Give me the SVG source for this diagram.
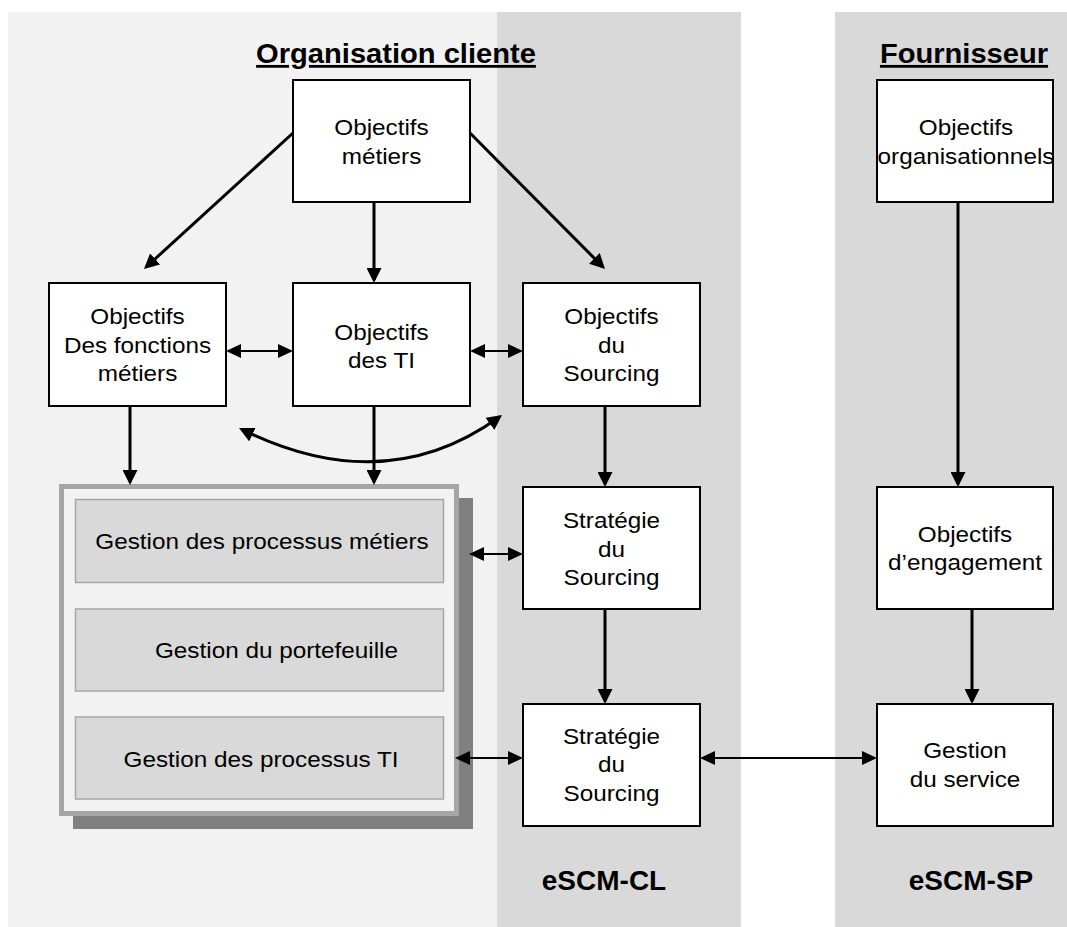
<svg xmlns="http://www.w3.org/2000/svg" width="1067" height="927" viewBox="0 0 1067 927">
<defs>
<style>
.bg-light{fill:#f2f2f2}
.bg-dark{fill:#d9d9d9}
.node{fill:#ffffff;stroke:#000000;stroke-width:2}
.t{font-family:"Liberation Sans",Arial,sans-serif;font-size:22.5px;fill:#000;text-anchor:middle;transform-box:fill-box;transform-origin:center;transform:scaleX(1.08)}
.h{font-family:"Liberation Sans",Arial,sans-serif;font-size:28px;font-weight:bold;fill:#000;text-anchor:middle;text-decoration:underline;transform-box:fill-box;transform-origin:center;transform:scaleX(1.04)}
.lab{font-family:"Liberation Sans",Arial,sans-serif;font-size:28px;font-weight:bold;fill:#000;text-anchor:middle}
.c{fill:none;stroke:#000;stroke-width:3}
.c2{fill:none;stroke:#000;stroke-width:2}
.sub{fill:#d9d9d9;stroke:#a6a6a6;stroke-width:1.5}
</style>
<marker id="ah" markerUnits="userSpaceOnUse" markerWidth="15" markerHeight="15" viewBox="0 0 15 15" refX="12" refY="7.5" orient="auto-start-reverse">
<path d="M0,0 L15,7.5 L0,15 z" fill="#000"/>
</marker>
<marker id="ah2" markerUnits="userSpaceOnUse" markerWidth="15" markerHeight="14" viewBox="0 0 15 14" refX="12" refY="7" orient="auto-start-reverse">
<path d="M0,0 L15,7 L0,14 z" fill="#000"/>
</marker>
</defs>

<g id="background">
<rect class="bg-light" x="8" y="12" width="489" height="915"/>
<rect class="bg-dark" x="497" y="12" width="244" height="915"/>
<rect class="bg-dark" x="835" y="12" width="232" height="915"/>
<text class="h" x="396" y="63">Organisation cliente</text>
<text class="h" x="964" y="63">Fournisseur</text>
<text class="lab" x="604" y="890">eSCM-CL</text>
<text class="lab" x="971" y="890">eSCM-SP</text>
</g>

<g id="gestion-group">
<rect x="73" y="498" width="400" height="331" fill="#808080"/>
<rect x="61.5" y="486.5" width="395" height="327" fill="#f2f2f2" stroke="#a6a6a6" stroke-width="5"/>
</g>
<g id="gestion-processus-metiers">
<rect class="sub" x="75.5" y="499.5" width="368" height="83"/>
<text class="t" x="262" y="549">Gestion des processus métiers</text>
</g>
<g id="gestion-portefeuille">
<rect class="sub" x="75.5" y="609" width="368" height="82"/>
<text class="t" x="276.5" y="658">Gestion du portefeuille</text>
</g>
<g id="gestion-processus-ti">
<rect class="sub" x="75.5" y="717" width="368" height="82"/>
<text class="t" x="261" y="767">Gestion des processus TI</text>
</g>

<g id="objectifs-metiers">
<rect class="node" x="293" y="80" width="177" height="122"/>
<text class="t" x="381.5" y="135">Objectifs</text>
<text class="t" x="381.5" y="164">métiers</text>
</g>
<g id="objectifs-organisationnels">
<rect class="node" x="877" y="80" width="176" height="122"/>
<text class="t" x="966" y="135">Objectifs</text>
<text class="t" x="966" y="164">organisationnels</text>
</g>
<g id="objectifs-fonctions-metiers">
<rect class="node" x="49" y="283" width="177" height="123"/>
<text class="t" x="137.5" y="324">Objectifs</text>
<text class="t" x="137.5" y="353">Des fonctions</text>
<text class="t" x="137.5" y="381">métiers</text>
</g>
<g id="objectifs-ti">
<rect class="node" x="293" y="283" width="177" height="123"/>
<text class="t" x="381.5" y="340">Objectifs</text>
<text class="t" x="381.5" y="368">des TI</text>
</g>
<g id="objectifs-sourcing">
<rect class="node" x="523" y="283" width="177" height="123"/>
<text class="t" x="611.5" y="324">Objectifs</text>
<text class="t" x="611.5" y="353">du</text>
<text class="t" x="611.5" y="381">Sourcing</text>
</g>
<g id="strategie-sourcing-1">
<rect class="node" x="523" y="487" width="177" height="122"/>
<text class="t" x="611.5" y="528">Stratégie</text>
<text class="t" x="611.5" y="557">du</text>
<text class="t" x="611.5" y="585">Sourcing</text>
</g>
<g id="objectifs-engagement">
<rect class="node" x="877" y="487" width="176" height="122"/>
<text class="t" x="965" y="542">Objectifs</text>
<text class="t" x="965" y="570">d’engagement</text>
</g>
<g id="strategie-sourcing-2">
<rect class="node" x="523" y="704" width="177" height="122"/>
<text class="t" x="611.5" y="744">Stratégie</text>
<text class="t" x="611.5" y="772">du</text>
<text class="t" x="611.5" y="801">Sourcing</text>
</g>
<g id="gestion-service">
<rect class="node" x="877" y="704" width="176" height="122"/>
<text class="t" x="965" y="758">Gestion</text>
<text class="t" x="965" y="787">du service</text>
</g>

<g id="connectors">
<line class="c" x1="293" y1="133" x2="146.2" y2="267" marker-end="url(#ah)"/>
<line class="c" x1="374" y1="202" x2="374" y2="280" marker-end="url(#ah)"/>
<line class="c" x1="470" y1="133" x2="602.9" y2="266.9" marker-end="url(#ah)"/>
<line class="c2" x1="229" y1="351" x2="290" y2="351" marker-start="url(#ah2)" marker-end="url(#ah2)"/>
<line class="c2" x1="473" y1="351" x2="520" y2="351" marker-start="url(#ah2)" marker-end="url(#ah2)"/>
<line class="c" x1="130" y1="406" x2="130" y2="482" marker-end="url(#ah)"/>
<line class="c" x1="374" y1="406" x2="374" y2="482" marker-end="url(#ah)"/>
<line class="c" x1="605" y1="406" x2="605" y2="484" marker-end="url(#ah)"/>
<path class="c" d="M241.7,429.3 Q385,500 499.6,416.8" marker-start="url(#ah)" marker-end="url(#ah)"/>
<line class="c2" x1="472" y1="554" x2="520" y2="554" marker-start="url(#ah2)" marker-end="url(#ah2)"/>
<line class="c" x1="605" y1="609" x2="605" y2="701" marker-end="url(#ah)"/>
<line class="c2" x1="458" y1="758" x2="520" y2="758" marker-start="url(#ah2)" marker-end="url(#ah2)"/>
<line class="c2" x1="703" y1="758" x2="874" y2="758" marker-start="url(#ah2)" marker-end="url(#ah2)"/>
<line class="c" x1="958" y1="202" x2="958" y2="484" marker-end="url(#ah)"/>
<line class="c" x1="972" y1="609" x2="972" y2="701" marker-end="url(#ah)"/>
</g>
</svg>
